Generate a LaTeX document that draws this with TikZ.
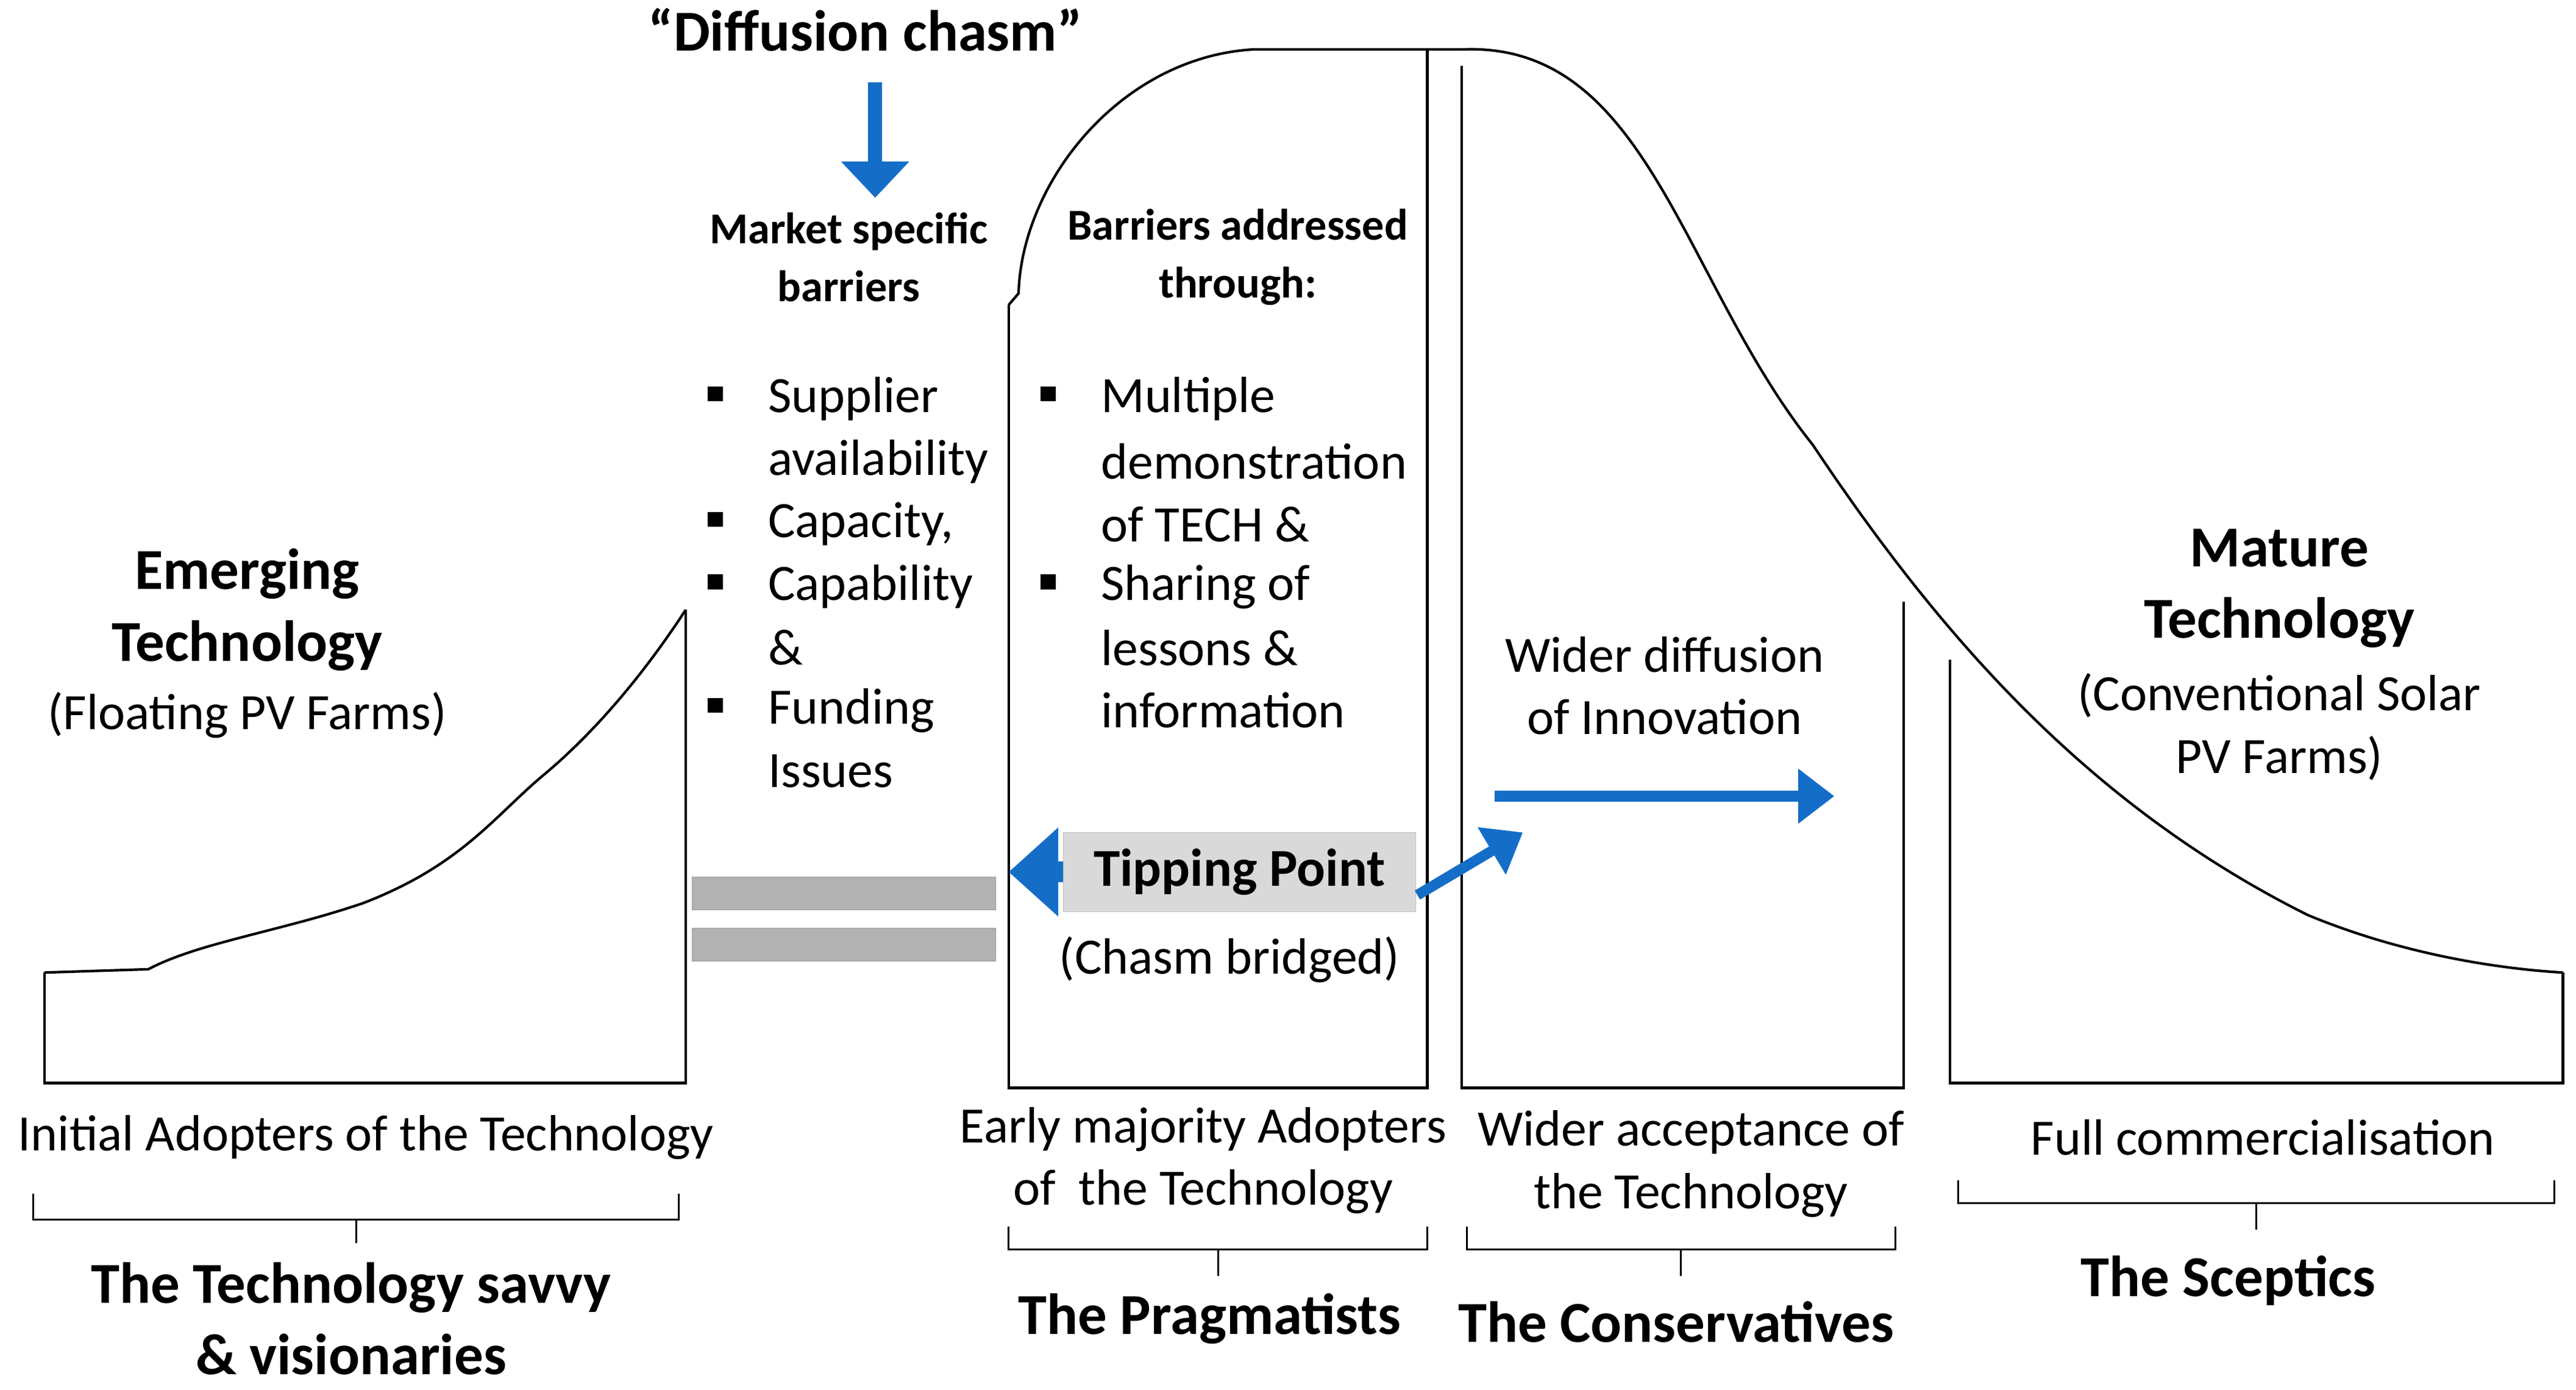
\documentclass[tikz,border=0pt]{standalone}
\usepackage{fontspec}
\setmainfont{Carlito}
\usetikzlibrary{arrows.meta}
\definecolor{abl}{RGB}{20,110,200}
\begin{document}
\begin{tikzpicture}[x=0.05cm,y=-0.05cm,
 curve/.style={line width=2.2pt,black},
 box/.style={line width=2.2pt,black},
 txt/.style={font=\fontsize{44}{54}\selectfont,align=center},
 ltxt/.style={font=\fontsize{44}{54}\selectfont,anchor=west,inner sep=0},
 head/.style={font=\fontsize{50}{62}\selectfont\bfseries,align=center},
 small/.style={font=\fontsize{38}{50}\selectfont\bfseries,align=center},
 bul/.style={fill=black,minimum size=0.45cm,inner sep=0},
 barr/.style={line width=9pt,draw=abl,-{Triangle[length=1.1cm,width=1.6cm]}},
 grey/.style={fill=gray!60,draw=gray!80}]
\useasboundingbox (0,0) rectangle (1563,843);
% left curve
\draw[box] (416,370) -- (416,657) -- (27,657) -- (27,590);
\draw[curve] (27,590) -- (90,588) .. controls (120,572) and (170,565) .. (220,548) .. controls (280,525) and (300,495) .. (330,470) .. controls (360,445) and (390,410) .. (416,370);
% middle bell
\draw[box] (612,185) -- (612,660) -- (866,660) -- (866,30);
\draw[curve] (612,185) -- (618,178) .. controls (620,110) and (680,35) .. (760,30) -- (887,30);
\draw[box] (887,40) -- (887,660) -- (1155,660) -- (1155,365);
\draw[curve] (887,30) .. controls (1000,25) and (1020,170) .. (1100,270) .. controls (1180,390) and (1270,490) .. (1400,555) .. controls (1460,580) and (1520,588) .. (1555,590);
\draw[box] (1183,400) -- (1183,657) -- (1555,657) -- (1555,590);
% grey bars
\node[grey,draw,minimum width=9.2cm,minimum height=1cm] (g1) at (512,542) {};
\node[grey,draw,minimum width=9.2cm,minimum height=1cm] (g2) at (512,573) {};
% tipping point
\node[fill=gray!30,draw=gray!50,minimum width=10.7cm,minimum height=2.4cm,font=\fontsize{46}{56}\selectfont\bfseries] (tp) at (752,529) {Tipping Point};
\coordinate (tl) at (612,529);
\draw[line width=18pt,draw=abl,-{Triangle[length=1.5cm,width=2.6cm]}] (tp.west) -- (tl);
\coordinate (ta) at (924,505);
\draw[barr] (860,543) -- (ta);
\coordinate (wa1) at (907,483); \coordinate (wa2) at (1113,483);
\draw[barr] (wa1) -- (wa2);
\coordinate (da1) at (531,50); \coordinate (da2) at (531,120);
\draw[line width=12pt,draw=abl,-{Triangle[length=1.1cm,width=2cm]}] (da1) -- (da2);
% texts
\node[head] (dc) at (525,18) {“Diffusion chasm”};
\node[small] (msb) at (515,156) {Market specific\\barriers};
\node[small] (bat) at (751,156) {Barriers addressed\\through:};
\node[head] (em) at (150,370) {Emerging\\Technology};
\node[txt] (emf) at (150,434) {(Floating PV Farms)};
\node[head] (mt) at (1383,357) {Mature\\Technology};
\node[txt] (mtc) at (1383,441) {(Conventional Solar\\PV Farms)};
\node[txt] (wd) at (1010,416) {Wider diffusion\\of Innovation};
\node[txt] (cb) at (746,582) {(Chasm bridged)};
% bullets left
\foreach \y/\t/\b [count=\i] in {242/Supplier/1,280/availability/0,318/{Capacity,}/1,356/Capability/1,393/\&/0,431/Funding/1,468/Issues/0}{
  \node[ltxt] (l\i) at (466,\y) {\t};
  \ifnum\b=1 \node[bul] (lb\i) at (434,\y-3) {};\fi}
\foreach \y/\t/\b [count=\i] in {242/Multiple/1,280/demonstration/0,318/{of TECH \&}/0,356/{Sharing of}/1,393/{lessons \&}/0,431/information/0}{
  \node[ltxt] (r\i) at (668,\y) {\t};
  \ifnum\b=1 \node[bul] (rb\i) at (636,\y-3) {};\fi}
% bottom labels
\node[txt] (b1) at (222,690) {Initial Adopters of the Technology};
\node[txt] (b2) at (730,704) {Early majority Adopters\\of\ \ the Technology};
\node[txt] (b3) at (1026,706) {Wider acceptance of\\the Technology};
\node[txt] (b4) at (1373,690) {Full commercialisation};
% brackets
\draw[line width=1.6pt] (20,724) -- (20,740) -- (412,740) -- (412,724) (216,740) -- (216,754);
\draw[line width=1.6pt] (612,744) -- (612,758) -- (866,758) -- (866,744) (739,758) -- (739,774);
\draw[line width=1.6pt] (890,744) -- (890,758) -- (1150,758) -- (1150,744) (1020,758) -- (1020,774);
\draw[line width=1.6pt] (1188,716) -- (1188,730) -- (1550,730) -- (1550,716) (1369,730) -- (1369,746);
\node[head] (s1) at (213,800) {The Technology savvy\\\& visionaries};
\node[head] (s2) at (734,800) {The Pragmatists};
\node[head] (s3) at (1017,802) {The Conservatives};
\node[head] (s4) at (1352,777) {The Sceptics};
\end{tikzpicture}
\end{document}
